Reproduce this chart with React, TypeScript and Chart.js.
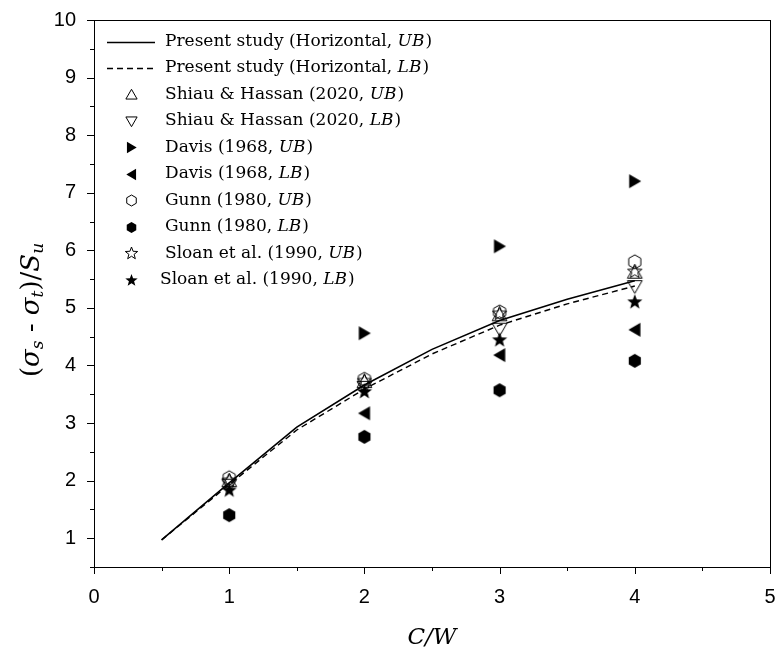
import React, { useEffect, useRef } from 'react';
import { Chart, registerables } from 'chart.js';
Chart.register(...registerables);

// ---------------- data ----------------
const lineX = [0.5, 1, 1.5, 2, 2.5, 3, 3.5, 4];
const presentUB = [0.97, 1.96, 2.93, 3.66, 4.28, 4.78, 5.15, 5.47];
const presentLB = [0.97, 1.93, 2.88, 3.59, 4.2, 4.7, 5.07, 5.38];

const pointX = [1, 2, 3, 4];
const shiauUB = [2.0, 3.72, 4.88, 5.62];
const shiauLB = [1.92, 3.62, 4.63, 5.37];
const davisUB = [null, 4.56, 6.07, 7.2];
const davisLB = [null, 3.17, 4.18, 4.62];
const gunnUB = [2.05, 3.76, 4.93, 5.8];
const gunnLB = [1.4, 2.76, 3.57, 4.08];
const sloanUB = [2.0, 3.73, 4.9, 5.63];
const sloanLB = [1.83, 3.54, 4.44, 5.1];

const xTickValues = [0, 1, 2, 3, 4, 5];
const yTickValues = [1, 2, 3, 4, 5, 6, 7, 8, 9, 10];

const seriesLabels: [string, string, string][] = [
  ['Present study (Horizontal, ', 'UB', ')'],
  ['Present study (Horizontal, ', 'LB', ')'],
  ['Shiau & Hassan (2020, ', 'UB', ')'],
  ['Shiau & Hassan (2020, ', 'LB', ')'],
  ['Davis (1968, ', 'UB', ')'],
  ['Davis (1968, ', 'LB', ')'],
  ['Gunn (1980, ', 'UB', ')'],
  ['Gunn (1980, ', 'LB', ')'],
  ['Sloan et al. (1990, ', 'UB', ')'],
  ['Sloan et al. (1990, ', 'LB', ')'],
];

// ---------------- helpers ----------------
type Kind = 'triUp' | 'triDown' | 'triRight' | 'triLeft' | 'hex' | 'star';

function makeMarker(kind: Kind, filled: boolean, r: number): HTMLCanvasElement {
  const pad = 2;
  const size = Math.ceil(2 * r + 2 * pad);
  const c = document.createElement('canvas');
  c.width = size;
  c.height = size;
  const ctx = c.getContext('2d')!;
  const cx = size / 2;
  const cy = size / 2;
  const pts: [number, number][] = [];
  if (kind === 'hex') {
    for (let i = 0; i < 6; i++) {
      const a = -Math.PI / 2 + (i * Math.PI) / 3;
      pts.push([cx + r * Math.cos(a), cy + r * Math.sin(a)]);
    }
  } else if (kind === 'star') {
    for (let i = 0; i < 10; i++) {
      const a = -Math.PI / 2 + (i * Math.PI) / 5;
      const rr = i % 2 ? r * 0.42 : r;
      pts.push([cx + rr * Math.cos(a), cy + rr * Math.sin(a)]);
    }
  } else {
    const base = { triUp: -90, triDown: 90, triRight: 0, triLeft: 180 }[kind] as number;
    const dy = kind === 'triUp' ? r * 0.2 : kind === 'triDown' ? -r * 0.2 : 0;
    const dx = kind === 'triRight' ? -r * 0.2 : kind === 'triLeft' ? r * 0.2 : 0;
    for (let i = 0; i < 3; i++) {
      const a = ((base + i * 120) * Math.PI) / 180;
      pts.push([cx + dx + r * Math.cos(a), cy + dy + r * Math.sin(a)]);
    }
  }
  ctx.beginPath();
  pts.forEach(([x, y], i) => (i ? ctx.lineTo(x, y) : ctx.moveTo(x, y)));
  ctx.closePath();
  if (filled) {
    ctx.fillStyle = '#000';
    ctx.fill();
  } else {
    ctx.strokeStyle = '#000';
    ctx.lineWidth = 1;
    ctx.stroke();
  }
  return c;
}

const toPts = (xs: number[], ys: (number | null)[]) =>
  xs.map((x, i) => ({ x, y: ys[i] })).filter((p) => p.y !== null) as { x: number; y: number }[];

const SERIF = '"DejaVu Serif", serif';
const SANS = '"Liberation Sans", Arial, sans-serif';

export default function App() {
  const ref = useRef<HTMLCanvasElement>(null);

  useEffect(() => {
    const markerSpecs: { kind: Kind; filled: boolean; r: number; lr: number }[] = [
      { kind: 'triUp', filled: false, r: 8.5, lr: 6.5 },
      { kind: 'triDown', filled: false, r: 8.5, lr: 6.5 },
      { kind: 'triRight', filled: true, r: 8, lr: 6.5 },
      { kind: 'triLeft', filled: true, r: 8, lr: 6.5 },
      { kind: 'hex', filled: false, r: 7, lr: 5.5 },
      { kind: 'hex', filled: true, r: 7, lr: 5.5 },
      { kind: 'star', filled: false, r: 7.5, lr: 6.5 },
      { kind: 'star', filled: true, r: 8, lr: 6.5 },
    ];
    const dataMarkers = markerSpecs.map((m) => makeMarker(m.kind, m.filled, m.r));
    const legendMarkers = markerSpecs.map((m) => makeMarker(m.kind, m.filled, m.lr));

    const pointSeries = [shiauUB, shiauLB, davisUB, davisLB, gunnUB, gunnLB, sloanUB, sloanLB];

    const datasets: any[] = [
      {
        label: seriesLabels[0].join(''),
        data: toPts(lineX, presentUB),
        showLine: true,
        borderColor: '#000',
        borderWidth: 1.6,
        pointRadius: 0,
        order: 20,
      },
      {
        label: seriesLabels[1].join(''),
        data: toPts(lineX, presentLB),
        showLine: true,
        borderColor: '#000',
        borderWidth: 1.4,
        borderDash: [6, 4],
        pointRadius: 0,
        order: 19,
      },
      ...pointSeries.map((ys, i) => ({
        label: seriesLabels[i + 2].join(''),
        data: toPts(pointX, ys),
        showLine: false,
        pointStyle: dataMarkers[i],
        pointRadius: 8,
        order: 10 - i,
      })),
    ];

    const framePlugin = {
      id: 'frame',
      afterDraw(chart: any) {
        const { ctx, chartArea: a, scales } = chart;
        const xs = scales.x;
        const ys = scales.y;
        ctx.save();
        ctx.strokeStyle = '#000';
        ctx.lineWidth = 1;
        // box
        ctx.strokeRect(Math.round(a.left) + 0.5, Math.round(a.top) + 0.5, Math.round(a.right - a.left), Math.round(a.bottom - a.top));
        // y ticks
        for (let v = 0.5; v <= 10.001; v += 0.5) {
          const y = Math.round(ys.getPixelForValue(v)) + 0.5;
          const len = Number.isInteger(v) ? 7 : 4;
          ctx.beginPath();
          ctx.moveTo(a.left - len, y);
          ctx.lineTo(a.left, y);
          ctx.stroke();
        }
        // x ticks
        for (let v = 0; v <= 5.001; v += 0.5) {
          const x = Math.round(xs.getPixelForValue(v)) + 0.5;
          const len = Number.isInteger(v) ? 7 : 4;
          ctx.beginPath();
          ctx.moveTo(x, a.bottom);
          ctx.lineTo(x, a.bottom + len);
          ctx.stroke();
        }

        // legend
        const rowY0 = 41.5;
        const rowStep = 26.5;
        const symX = 131;
        ctx.textBaseline = 'middle';
        ctx.fillStyle = '#000';
        seriesLabels.forEach((parts, i) => {
          const y = rowY0 + i * rowStep;
          if (i === 0 || i === 1) {
            ctx.save();
            ctx.lineWidth = 1.3;
            if (i === 1) ctx.setLineDash([6, 4]);
            ctx.beginPath();
            ctx.moveTo(107, Math.round(y) + 0.5);
            ctx.lineTo(155, Math.round(y) + 0.5);
            ctx.stroke();
            ctx.restore();
          } else {
            const m = legendMarkers[i - 2];
            ctx.drawImage(m, Math.round(symX - m.width / 2), Math.round(y - m.height / 2));
          }
          let tx = i === 9 ? 160 : 165;
          ctx.font = `17px ${SERIF}`;
          ctx.fillText(parts[0], tx, y);
          tx += ctx.measureText(parts[0]).width;
          ctx.font = `italic 17px ${SERIF}`;
          ctx.fillText(parts[1], tx, y);
          tx += ctx.measureText(parts[1]).width + 1;
          ctx.font = `17px ${SERIF}`;
          ctx.fillText(parts[2], tx, y);
        });

        // x title
        ctx.font = `italic 23px ${SERIF}`;
        ctx.textAlign = 'center';
        ctx.textBaseline = 'middle';
        ctx.fillText('C/W', (a.left + a.right) / 2, 638);

        // y title (rotated)
        ctx.save();
        ctx.translate(30, 310);
        ctx.rotate(-Math.PI / 2);
        const big = 26;
        const small = 17;
        const segs: { t: string; it: boolean; sub: boolean }[] = [
          { t: '(', it: false, sub: false },
          { t: 'σ', it: true, sub: false },
          { t: 's', it: true, sub: true },
          { t: ' - ', it: false, sub: false },
          { t: 'σ', it: true, sub: false },
          { t: 't', it: true, sub: true },
          { t: ')/', it: false, sub: false },
          { t: 'S', it: true, sub: false },
          { t: 'u', it: true, sub: true },
        ];
        const fontOf = (s: { it: boolean; sub: boolean }) =>
          `${s.it ? 'italic ' : ''}${s.sub ? small : big}px ${SERIF}`;
        let total = 0;
        segs.forEach((s) => {
          ctx.font = fontOf(s);
          total += ctx.measureText(s.t).width;
        });
        let px = -total / 2;
        ctx.textAlign = 'left';
        ctx.textBaseline = 'alphabetic';
        segs.forEach((s) => {
          ctx.font = fontOf(s);
          ctx.fillText(s.t, px, s.sub ? 13 : 9);
          px += ctx.measureText(s.t).width;
        });
        ctx.restore();
        ctx.restore();
      },
    };

    const chart = new Chart(ref.current!, {
      type: 'scatter',
      data: { datasets },
      options: {
        animation: false,
        responsive: false,
        layout: { padding: { top: 20, right: 5, left: 0, bottom: 0 } },
        plugins: { legend: { display: false }, tooltip: { enabled: false } },
        scales: {
          x: {
            type: 'linear',
            min: 0,
            max: 5,
            grid: { display: false },
            border: { display: true, color: '#000', width: 1 },
            ticks: {
              stepSize: 0.5,
              padding: 10,
              color: '#000',
              font: { family: SANS, size: 20 },
              autoSkip: false,
              maxRotation: 0,
              callback: (v: any) => (xTickValues.includes(v) ? String(v) : ''),
            },
            afterFit: (s: any) => {
              s.height = 654 - 567;
              s.paddingLeft = 0;
              s.paddingRight = 0;
            },
          },
          y: {
            type: 'linear',
            min: 0.5,
            max: 10,
            grid: { display: false },
            border: { display: true, color: '#000', width: 1 },
            ticks: {
              stepSize: 0.5,
              padding: 10,
              color: '#000',
              font: { family: SANS, size: 20 },
              autoSkip: false,
              callback: (v: any) => (yTickValues.includes(v) ? String(v) : ''),
            },
            afterFit: (s: any) => {
              s.width = 94;
              s.paddingTop = 0;
              s.paddingBottom = 0;
            },
          },
        },
      },
      plugins: [framePlugin],
    });
    return () => chart.destroy();
  }, []);

  return (
    <div style={{ position: 'fixed', left: 0, top: 0, width: 779, height: 654, background: '#fff' }}>
      <canvas ref={ref} width={779} height={654} style={{ width: 779, height: 654, display: 'block' }} />
    </div>
  );
}
